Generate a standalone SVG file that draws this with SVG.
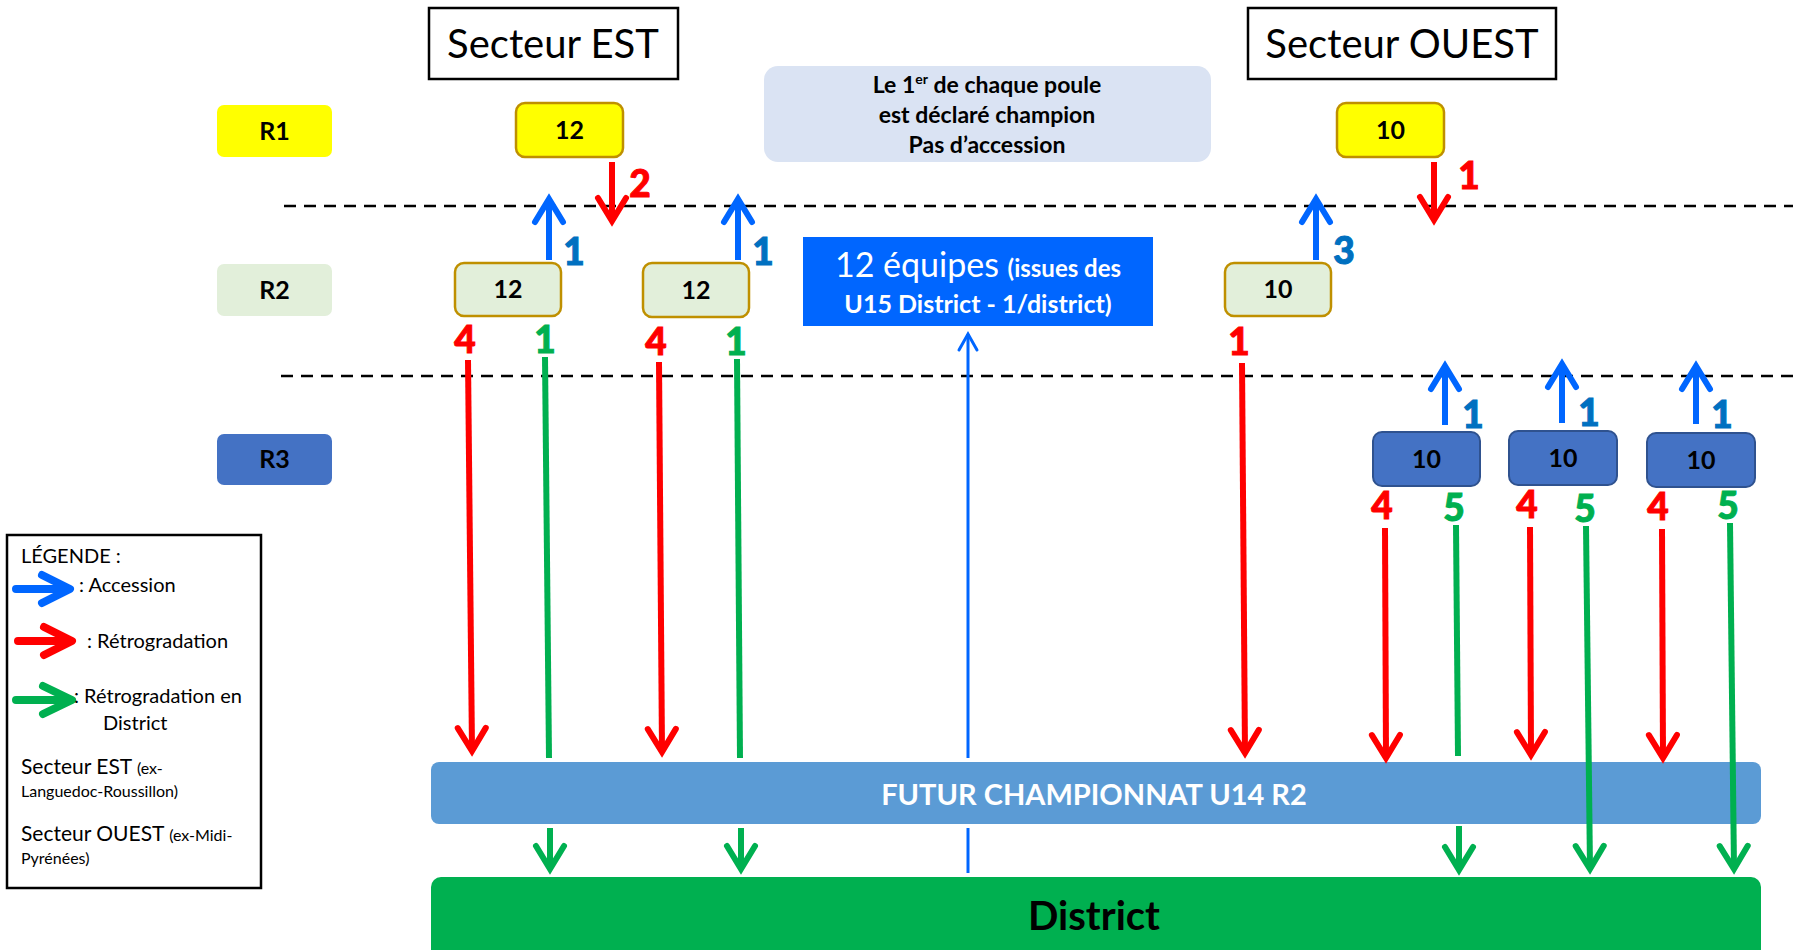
<svg xmlns="http://www.w3.org/2000/svg" width="1793" height="950" viewBox="0 0 1793 950">
<style>
text{font-family:Lato,"Open Sans","Liberation Sans",sans-serif}
.title{font-size:40px;fill:#000;text-anchor:middle}
.lvl{font-size:25px;font-weight:bold;fill:#000;text-anchor:middle}
.r1{fill:#FFFF00;stroke:#BF9000;stroke-width:2.5}
.r2{fill:#E2EFDA;stroke:#BF9000;stroke-width:2.5}
.r3{fill:#4472C4;stroke:#2F528F;stroke-width:2}
.num{font-size:37px;font-weight:900;text-anchor:middle;stroke-width:1}
.nr{fill:#FF0000;stroke:#FF0000}
.ng{fill:#00B050;stroke:#00B050}
.nb{fill:#0070C0;stroke:#0070C0}
.ar{stroke:#FF0000;stroke-width:6;fill:none}
.ag{stroke:#00B050;stroke-width:6;fill:none}
.ab{stroke:#0066FF;stroke-width:6;fill:none}
.abt{stroke:#0066FF;stroke-width:3;fill:none}
.dash{stroke:#000;stroke-width:2.5;stroke-dasharray:12 8;fill:none}
.leg{font-size:20px;fill:#000}
.legs{font-size:16px;fill:#000}
.la{stroke-width:8;fill:none;stroke-linecap:round;stroke-linejoin:round}
</style>
<defs>
<marker id="hr" markerUnits="userSpaceOnUse" viewBox="-34 -20 44 40" markerWidth="44" markerHeight="40" refX="-4" refY="0" orient="auto" overflow="visible"><path d="M-27,-14 L-4,0 L-27,14" fill="none" stroke="#FF0000" stroke-width="6" stroke-linecap="round"/></marker>
<marker id="hg" markerUnits="userSpaceOnUse" viewBox="-34 -20 44 40" markerWidth="44" markerHeight="40" refX="-4" refY="0" orient="auto" overflow="visible"><path d="M-27,-14 L-4,0 L-27,14" fill="none" stroke="#00B050" stroke-width="6" stroke-linecap="round"/></marker>
<marker id="hb" markerUnits="userSpaceOnUse" viewBox="-34 -20 44 40" markerWidth="44" markerHeight="40" refX="-4" refY="0" orient="auto" overflow="visible"><path d="M-27,-14 L-4,0 L-27,14" fill="none" stroke="#0066FF" stroke-width="6" stroke-linecap="round"/></marker>
<marker id="hbt" markerUnits="userSpaceOnUse" viewBox="-20 -12 24 24" markerWidth="24" markerHeight="24" refX="-1" refY="0" orient="auto" overflow="visible"><path d="M-17,-9 L-1,0 L-17,9" fill="none" stroke="#0066FF" stroke-width="3" stroke-linecap="round"/></marker>
</defs>
<rect width="1793" height="950" fill="#fff"/>

<g id="separators">
<line class="dash" x1="284" y1="206" x2="1793" y2="206"/>
<line class="dash" x1="281" y1="376" x2="1793" y2="376"/>
</g>

<g id="secteur-est"><rect x="429" y="8" width="249" height="71" fill="#fff" stroke="#000" stroke-width="2.5"/><text class="title" x="553" y="58">Secteur EST</text></g>
<g id="secteur-ouest"><rect x="1248" y="8" width="308" height="71" fill="#fff" stroke="#000" stroke-width="2.5"/><text class="title" x="1402" y="58">Secteur OUEST</text></g>

<g id="label-r1"><rect x="217" y="105" width="115" height="52" rx="7" fill="#FFFF00"/><text class="lvl" x="274.5" y="140">R1</text></g>
<g id="label-r2"><rect x="217" y="264" width="115" height="52" rx="7" fill="#E2EFDA"/><text class="lvl" x="274.5" y="299">R2</text></g>
<g id="label-r3"><rect x="217" y="434" width="115" height="51" rx="7" fill="#4472C4"/><text class="lvl" x="274.5" y="468">R3</text></g>

<g id="r1-est"><rect class="r1" x="516" y="103" width="107" height="54" rx="9"/><text class="lvl" x="569.5" y="139">12</text></g>
<g id="r1-ouest"><rect class="r1" x="1337" y="103" width="107" height="54" rx="9"/><text class="lvl" x="1390.5" y="139">10</text></g>

<g id="note"><rect x="764" y="66" width="447" height="96" rx="14" fill="#DAE3F3"/>
<text x="987" y="93" font-size="23" font-weight="bold" text-anchor="middle">Le 1<tspan font-size="14" dy="-9">er</tspan><tspan dy="9"> de chaque poule</tspan></text>
<text x="987" y="123" font-size="23" font-weight="bold" text-anchor="middle">est déclaré champion</text>
<text x="987" y="153" font-size="23" font-weight="bold" text-anchor="middle">Pas d’accession</text></g>

<g id="r2-est-1"><rect class="r2" x="455" y="263" width="106" height="53" rx="9"/><text class="lvl" x="508" y="298">12</text></g>
<g id="r2-est-2"><rect class="r2" x="643" y="263" width="106" height="54" rx="9"/><text class="lvl" x="696" y="299">12</text></g>
<g id="r2-ouest"><rect class="r2" x="1225" y="263" width="106" height="53" rx="9"/><text class="lvl" x="1278" y="298">10</text></g>

<g id="u15"><rect x="803" y="237" width="350" height="89" fill="#0066FF"/>
<text x="978" y="277" text-anchor="middle" fill="#fff"><tspan font-size="34">12 équipes </tspan><tspan font-size="24" font-weight="bold">(issues des</tspan></text>
<text x="978" y="313" text-anchor="middle" fill="#fff" font-size="25" font-weight="bold">U15 District - 1/district)</text></g>

<g id="r3-1"><rect class="r3" x="1373" y="432" width="107" height="54" rx="9"/><text class="lvl" x="1426.5" y="468">10</text></g>
<g id="r3-2"><rect class="r3" x="1509" y="431" width="108" height="54" rx="9"/><text class="lvl" x="1563" y="467">10</text></g>
<g id="r3-3"><rect class="r3" x="1647" y="433" width="108" height="54" rx="9"/><text class="lvl" x="1701" y="469">10</text></g>

<g id="futur"><rect x="431" y="762" width="1330" height="62" rx="8" fill="#5B9BD5"/><text x="1094" y="805" font-size="29" font-weight="bold" fill="#fff" text-anchor="middle">FUTUR CHAMPIONNAT U14 R2</text></g>
<g id="district"><rect x="431" y="877" width="1330" height="90" rx="10" fill="#00B050"/><text x="1094" y="930" font-size="40" font-weight="bold" fill="#000" text-anchor="middle">District</text></g>

<g id="connectors">
<path class="ab" d="M549,260 L549,199" marker-end="url(#hb)"/>
<path class="ab" d="M738,260 L738,199" marker-end="url(#hb)"/>
<path class="ab" d="M1316,260 L1316,199" marker-end="url(#hb)"/>
<path class="ab" d="M1445,425 L1445,366" marker-end="url(#hb)"/>
<path class="ab" d="M1562,423 L1562,364" marker-end="url(#hb)"/>
<path class="ab" d="M1696,424 L1696,366" marker-end="url(#hb)"/>
<path class="ar" d="M612,162 L612,221" marker-end="url(#hr)"/>
<path class="ar" d="M1434,162 L1434,220" marker-end="url(#hr)"/>
<path class="ar" d="M468,360 L472,751" marker-end="url(#hr)"/>
<path class="ar" d="M659,362 L662,752" marker-end="url(#hr)"/>
<path class="ar" d="M1242,363 L1245,753" marker-end="url(#hr)"/>
<path class="ar" d="M1385,528 L1386,758" marker-end="url(#hr)"/>
<path class="ar" d="M1530,527 L1531,755" marker-end="url(#hr)"/>
<path class="ar" d="M1662,529 L1663,758" marker-end="url(#hr)"/>
<path class="ag" d="M545,357 L549,758"/>
<path class="ag" d="M550,828 L550,869" marker-end="url(#hg)"/>
<path class="ag" d="M737,359 L740,758"/>
<path class="ag" d="M741,828 L741,869" marker-end="url(#hg)"/>
<path class="ag" d="M1456,525 L1458,756"/>
<path class="ag" d="M1459,826 L1459,870" marker-end="url(#hg)"/>
<path class="ag" d="M1586,526 L1590,869" marker-end="url(#hg)"/>
<path class="ag" d="M1730,523 L1734,869" marker-end="url(#hg)"/>
<path class="abt" d="M968,758 L968,334" marker-end="url(#hbt)"/>
<path class="abt" d="M968,828 L968,873"/>
</g>

<g id="counts">
<text class="num nr" x="640" y="197">2</text>
<text class="num nb" x="574" y="265">1</text>
<text class="num nb" x="763" y="265">1</text>
<text class="num nb" x="1344" y="264">3</text>
<text class="num nr" x="1469" y="189">1</text>
<text class="num nr" x="465" y="353">4</text>
<text class="num ng" x="545" y="353">1</text>
<text class="num nr" x="656" y="355">4</text>
<text class="num ng" x="736" y="355">1</text>
<text class="num nr" x="1239" y="355">1</text>
<text class="num nb" x="1473" y="428">1</text>
<text class="num nb" x="1589" y="426">1</text>
<text class="num nb" x="1722" y="428">1</text>
<text class="num nr" x="1382" y="519">4</text>
<text class="num ng" x="1454" y="521">5</text>
<text class="num nr" x="1527" y="518">4</text>
<text class="num ng" x="1585" y="522">5</text>
<text class="num nr" x="1658" y="520">4</text>
<text class="num ng" x="1728" y="519">5</text>
</g>

<g id="legend">
<rect x="7" y="535" width="254" height="353" fill="#fff" stroke="#000" stroke-width="2.5"/>
<text class="leg" x="21" y="563">LÉGENDE :</text>
<path class="la" stroke="#0066FF" d="M16,589 L66,589 M42,575 L70,589 L42,603"/>
<text class="leg" x="79" y="592">: Accession</text>
<path class="la" stroke="#FF0000" d="M18,641 L68,641 M44,627 L72,641 L44,655"/>
<text class="leg" x="87" y="648">: Rétrogradation</text>
<path class="la" stroke="#00B050" d="M16,700 L68,700 M43,686 L72,700 L43,714"/>
<text class="leg" x="74" y="703">: Rétrogradation en</text>
<text class="leg" x="103" y="730">District</text>
<text x="21" y="774"><tspan font-size="21">Secteur EST </tspan><tspan font-size="16">(ex-</tspan></text>
<text class="legs" x="21" y="797">Languedoc-Roussillon)</text>
<text x="21" y="841"><tspan font-size="21">Secteur OUEST </tspan><tspan font-size="16">(ex-Midi-</tspan></text>
<text class="legs" x="21" y="864">Pyrénées)</text>
</g>
</svg>
